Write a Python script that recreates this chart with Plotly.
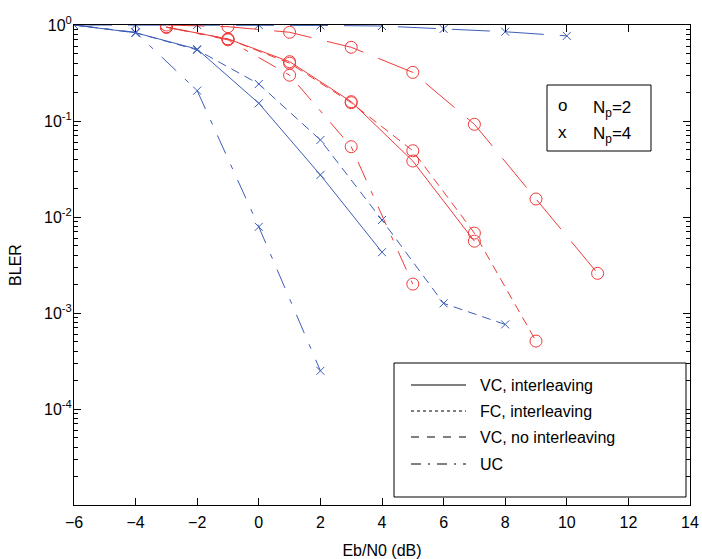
import plotly.graph_objects as go

# ---- data ----
x_np4 = [-6, -4, -2, 0, 2, 4, 6, 8, 10]
x_np2 = [-3, -1, 1, 3, 5, 7, 9, 11]

# Np = 4 (blue, x markers)
np4_fc = [1.0, 1.0, 1.0, 1.0, 0.99, 0.976, 0.91, 0.85, 0.77]
np4_vc_int = [1.0, 0.83, 0.56, 0.153, 0.0274, 0.0043]
np4_vc_noint = [1.0, 0.83, 0.55, 0.243, 0.0634, 0.0093, 0.00126, 0.00076]
np4_uc = [1.0, 0.84, 0.207, 0.0079, 0.00025]

# Np = 2 (red, o markers)
np2_fc = [1.0, 0.96, 0.84, 0.586, 0.321, 0.0924, 0.0154, 0.00259]
np2_vc_int = [0.95, 0.715, 0.415, 0.159, 0.0383, 0.0056]
np2_vc_noint = [0.95, 0.715, 0.40, 0.155, 0.049, 0.0068, 0.00051]
np2_uc = [0.95, 0.70, 0.30, 0.054, 0.002]

legend_names = ["VC, interleaving", "FC, interleaving", "VC, no interleaving", "UC"]
np_labels = ["N<sub>p</sub>=2", "N<sub>p</sub>=4"]
np_symbols = ["o", "x"]
y_tick_vals = [1, 0.1, 0.01, 0.001, 0.0001]
y_tick_text = ["10<sup>0</sup>", "10<sup>-1</sup>", "10<sup>-2</sup>", "10<sup>-3</sup>", "10<sup>-4</sup>"]

BLUE = "#3d5db8"
RED = "#f03a3a"
FONT = "Liberation Sans, Arial, sans-serif"

DASH_FC = "38px,16px"
DASH_VC_NOINT = "9px,6px"
DASH_UC = "20px,12px,5px,12px"

# plot-area geometry in pixels (for placing the legend boxes)
W, H = 702, 559
L, R, T, B = 74, 12, 25, 54
PW, PH = W - L - R, H - T - B


def px(xp):
    return (xp - L) / PW


def py(yp):
    return (H - B - yp) / PH


fig = go.Figure()


def add(x, y, color, dash, symbol, size):
    fig.add_trace(go.Scatter(
        x=x[:len(y)], y=y, mode="lines+markers", showlegend=False,
        line=dict(color=color, width=1, dash=dash),
        marker=dict(symbol=symbol, size=size, color=color,
                    line=dict(color=color, width=1)),
    ))


add(x_np4, np4_fc, BLUE, DASH_FC, "x-thin-open", 8)
add(x_np4, np4_vc_int, BLUE, "solid", "x-thin-open", 8)
add(x_np4, np4_vc_noint, BLUE, DASH_VC_NOINT, "x-thin-open", 8)
add(x_np4, np4_uc, BLUE, DASH_UC, "x-thin-open", 8)

add(x_np2, np2_fc, RED, DASH_FC, "circle-open", 12)
add(x_np2, np2_vc_int, RED, "solid", "circle-open", 12)
add(x_np2, np2_vc_noint, RED, DASH_VC_NOINT, "circle-open", 12)
add(x_np2, np2_uc, RED, DASH_UC, "circle-open", 12)

shapes = []
annotations = []

# line-style legend box
shapes.append(dict(type="rect", xref="paper", yref="paper",
                   x0=px(394), x1=px(686), y0=py(497), y1=py(363),
                   line=dict(color="black", width=1), fillcolor="white", layer="above"))
row_y = [385, 411, 437, 464]
legend_dashes = ["solid", "dot", "8px,8px", "10px,7px,2px,7px"]
for name, dash, ry in zip(legend_names, legend_dashes, row_y):
    shapes.append(dict(type="line", xref="paper", yref="paper",
                       x0=px(411), x1=px(466), y0=py(ry), y1=py(ry),
                       line=dict(color="black", width=1, dash=dash), layer="above"))
    annotations.append(dict(xref="paper", yref="paper", x=px(478), y=py(ry),
                            xanchor="left", yanchor="middle", text=name, showarrow=False,
                            font=dict(family=FONT, size=16, color="black")))

# Np legend box
shapes.append(dict(type="rect", xref="paper", yref="paper",
                   x0=px(547), x1=px(651), y0=py(151), y1=py(85),
                   line=dict(color="black", width=1), fillcolor="white", layer="above"))
for sym, lab, ry in zip(np_symbols, np_labels, [106, 132]):
    annotations.append(dict(xref="paper", yref="paper", x=px(556), y=py(ry),
                            xanchor="left", yanchor="middle", text=sym, showarrow=False,
                            font=dict(family=FONT, size=17, color="black")))
    annotations.append(dict(xref="paper", yref="paper", x=px(591), y=py(ry + 3),
                            xanchor="left", yanchor="middle", text=lab, showarrow=False,
                            font=dict(family=FONT, size=17, color="black")))

fig.update_layout(
    width=W, height=H,
    margin=dict(l=L, r=R, t=T, b=B),
    paper_bgcolor="white", plot_bgcolor="white",
    font=dict(family=FONT, size=16, color="black"),
    showlegend=False,
    shapes=shapes, annotations=annotations,
)

fig.update_xaxes(
    range=[-6, 14], dtick=2, tick0=-6, automargin=False,
    showgrid=False, zeroline=False,
    showline=True, linecolor="black", linewidth=1, mirror="ticks",
    ticks="inside", ticklen=7, tickcolor="black",
    tickfont=dict(family=FONT, size=16), ticklabelstandoff=3,
    title=dict(text="Eb/N0 (dB)", font=dict(family=FONT, size=16), standoff=14),
)

minor_vals = [m * 10 ** e for e in range(-5, 0) for m in range(2, 10)]
fig.update_yaxes(
    type="log", range=[-5, 0], automargin=False,
    tickmode="array", tickvals=y_tick_vals, ticktext=y_tick_text,
    showgrid=False, zeroline=False,
    showline=True, linecolor="black", linewidth=1, mirror="ticks",
    ticks="inside", ticklen=7, tickcolor="black",
    tickfont=dict(family=FONT, size=16), ticklabelstandoff=-2,
    minor=dict(ticks="inside", ticklen=4, tickcolor="black", tickmode="array", tickvals=minor_vals),
    title=dict(text="BLER", font=dict(family=FONT, size=16), standoff=18),
)

fig.write_html("out.html", config={"displayModeBar": False},
               post_script="document.body.style.margin='0';document.body.style.overflow='hidden';")
